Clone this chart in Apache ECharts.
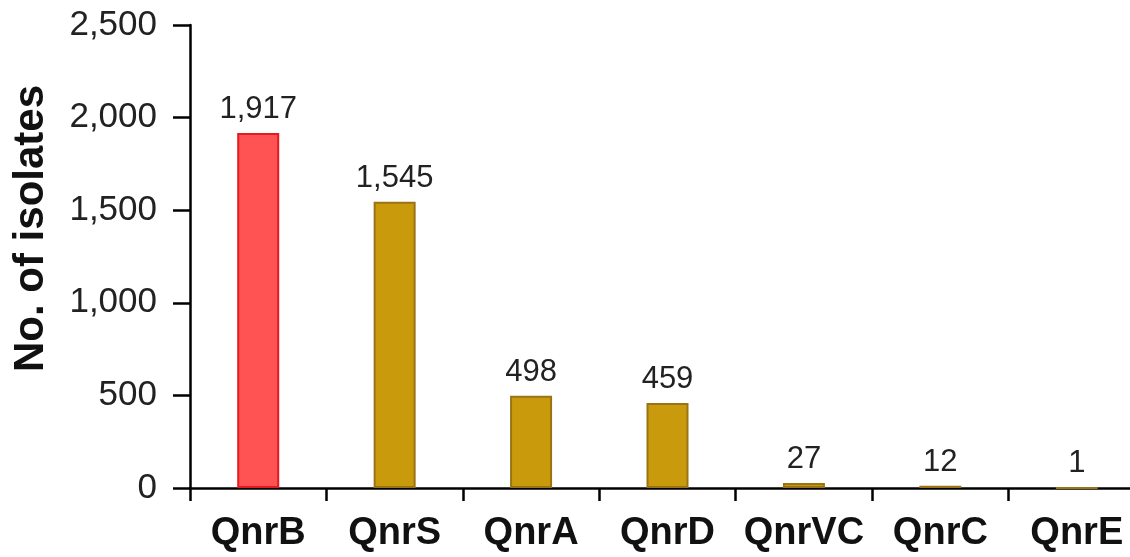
<!DOCTYPE html>
<html>
<head>
<meta charset="utf-8">
<script src="https://cdn.jsdelivr.net/npm/echarts@6/dist/echarts.min.js"></script>
<style>
  html, body { margin: 0; padding: 0; background: #fff; }
  #chart { width: 1130px; height: 557px; }
</style>
</head>
<body>
<div id="chart"></div>
<script>
// Qnr gene variants and the number of isolates carrying each
const categories = ['QnrB', 'QnrS', 'QnrA', 'QnrD', 'QnrVC', 'QnrC', 'QnrE'];
const isolateCounts = [1917, 1545, 498, 459, 27, 12, 1];
const yTicks = [0, 500, 1000, 1500, 2000, 2500];

const FONT = '"Liberation Sans", Arial, Helvetica, sans-serif';
const highlight = { fill: '#FF5252', border: '#E31B1F' };
const regular = { fill: '#C99A0C', border: '#9A7414' };

const fmt = v => v.toLocaleString('en-US');

const chart = echarts.init(document.getElementById('chart'), null, { renderer: 'canvas' });

chart.setOption({
  animation: false,
  backgroundColor: '#ffffff',
  grid: { left: 190, top: 25, bottom: 69, right: -15, containLabel: false, outerBoundsMode: 'none' },
  xAxis: {
    type: 'category',
    data: categories,
    boundaryGap: true,
    axisLine: { lineStyle: { color: '#000', width: 2.5 } },
    axisTick: { show: true, alignWithLabel: false, length: 13, lineStyle: { color: '#000', width: 2.5 } },
    axisLabel: { color: '#111', fontFamily: FONT, fontWeight: 'bold', fontSize: 38, margin: 27, interval: 0 },
    splitLine: { show: false }
  },
  yAxis: {
    type: 'value',
    min: yTicks[0],
    max: yTicks[yTicks.length - 1],
    interval: yTicks[1] - yTicks[0],
    name: 'No. of isolates',
    nameLocation: 'middle',
    nameGap: 138,
    nameRotate: 90,
    nameTextStyle: { color: '#111', fontFamily: FONT, fontWeight: 'bold', fontSize: 42, padding: [0, 0, 0, 56] },
    axisLine: { show: true, lineStyle: { color: '#000', width: 2.5 } },
    axisTick: { show: true, length: 17, lineStyle: { color: '#000', width: 2.5 } },
    axisLabel: { color: '#222', fontFamily: FONT, fontSize: 35, margin: 33, formatter: fmt },
    splitLine: { show: false }
  },
  series: [{
    type: 'bar',
    data: isolateCounts.map((v, i) => {
      const c = i === 0 ? highlight : regular;
      return { value: v, itemStyle: { color: c.fill, borderColor: c.border, borderWidth: 2 } };
    }),
    barWidth: 42,
    label: {
      show: true,
      position: 'top',
      distance: 8,
      color: '#222',
      fontFamily: FONT,
      fontSize: 31,
      formatter: p => fmt(p.value)
    }
  }]
});
</script>
</body>
</html>
